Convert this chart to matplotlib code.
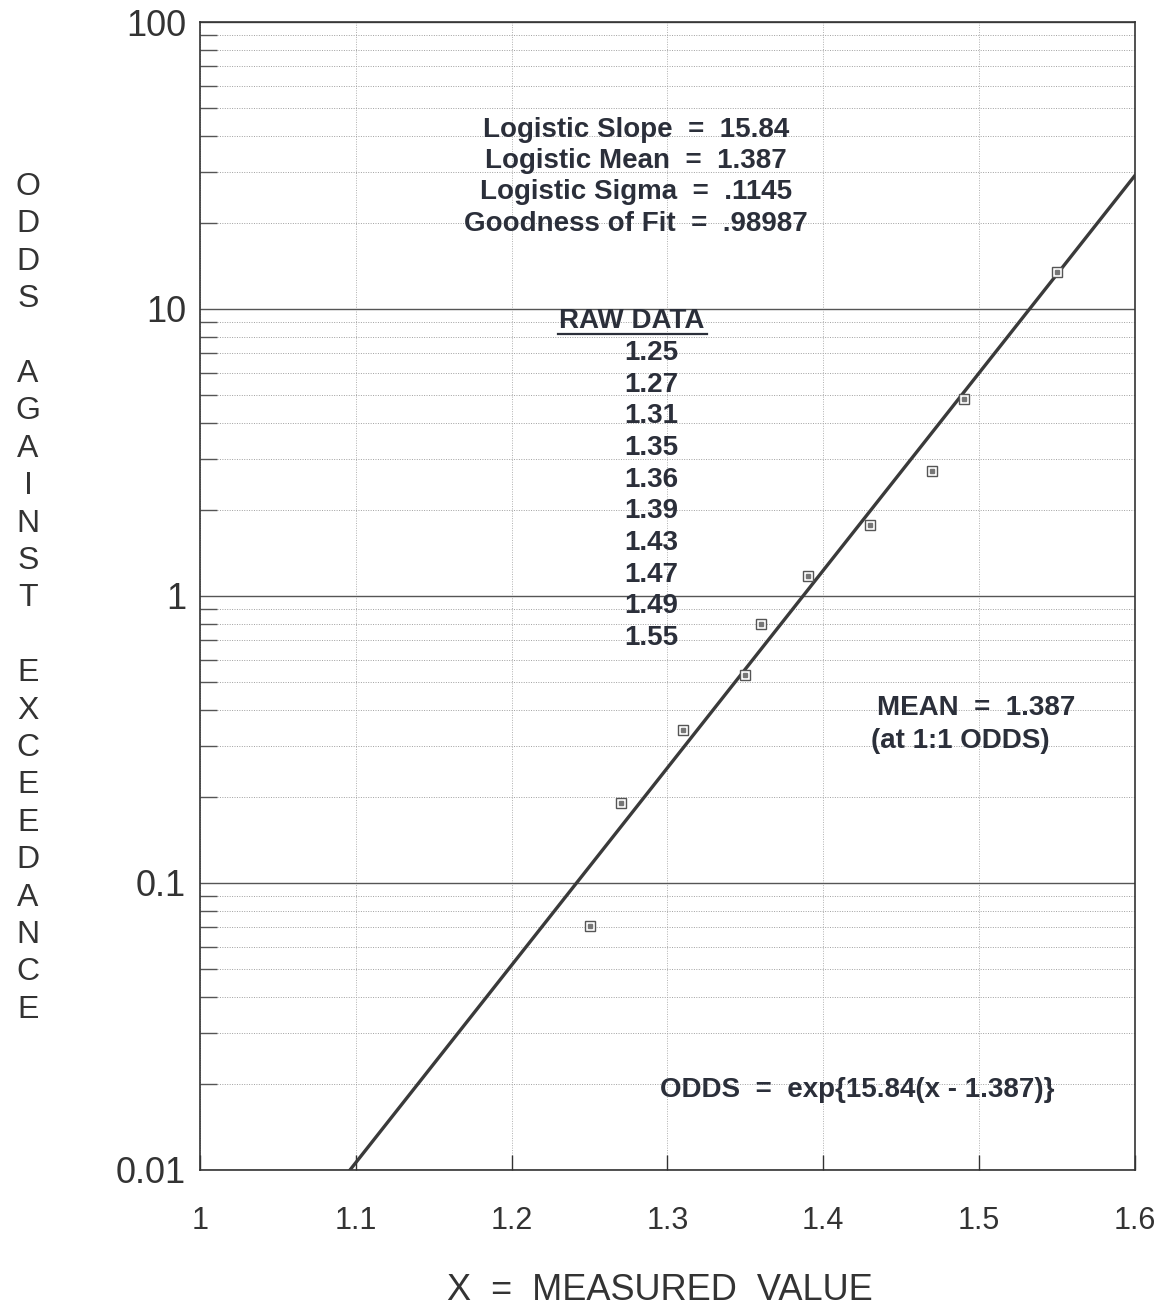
import numpy as np
import matplotlib.pyplot as plt
from matplotlib.ticker import FixedLocator, LogLocator, NullFormatter

plt.rcParams['font.family'] = ['Liberation Sans', 'DejaVu Sans']

# fitted logistic model
SLOPE = 15.84
MEAN = 1.387

# raw data points (x, odds against exceedance)
raw_x = [1.25, 1.27, 1.31, 1.35, 1.36, 1.39, 1.43, 1.47, 1.49, 1.55]
raw_odds = [0.071, 0.19, 0.34, 0.53, 0.80, 1.17, 1.77, 2.73, 4.85, 13.5]

x_ticks = [1.0, 1.1, 1.2, 1.3, 1.4, 1.5, 1.6]
x_labels = ["1", "1.1", "1.2", "1.3", "1.4", "1.5", "1.6"]
y_ticks = [0.01, 0.1, 1, 10, 100]
y_labels = ["0.01", "0.1", "1", "10", "100"]

stats_lines = ["Logistic Slope  =  15.84", "Logistic Mean  =  1.387",
               "Logistic Sigma  =  .1145", "Goodness of Fit  =  .98987"]

text_col = "#2b2f3a"

fig = plt.figure(figsize=(11.54, 13.10), dpi=100)
ax = fig.add_axes([0.1733, 0.1069, 0.8102, 0.8763])

ax.set_xlim(1.0, 1.6)
ax.set_yscale("log")
ax.set_ylim(0.01, 100)

# fitted line
xs = np.linspace(1.0, 1.6, 200)
ax.plot(xs, np.exp(SLOPE * (xs - MEAN)), color="#3a3a3a", lw=2.4, zorder=4)

# raw data markers: square with a dot inside
ax.plot(raw_x, raw_odds, ls="none", marker="s", ms=7, mfc="white",
        mec="#555555", mew=1.0, zorder=5)
ax.plot(raw_x, raw_odds, ls="none", marker="s", ms=2.2, mfc="#777777",
        mec="#777777", zorder=6)

# ticks and grid
ax.xaxis.set_major_locator(FixedLocator(x_ticks))
ax.set_xticklabels(x_labels)
ax.yaxis.set_major_locator(FixedLocator(y_ticks))
ax.yaxis.set_minor_locator(LogLocator(base=10, subs=np.arange(2, 10)))
ax.yaxis.set_minor_formatter(NullFormatter())
ax.set_yticklabels(y_labels)

ax.tick_params(axis="x", which="major", direction="in", length=11, width=1,
               color="#333333", labelsize=22, pad=26, labelcolor="#333333")
ax.tick_params(axis="y", which="major", length=0, labelsize=26, pad=10,
               labelcolor="#333333")
ax.tick_params(axis="y", which="minor", direction="in", length=12, width=1,
               color="#555555")

ax.grid(True, axis="x", which="major", ls=(0, (1, 1.5)), lw=0.7, color="#b0b0b0")
ax.grid(True, axis="y", which="major", ls="-", lw=1.0, color="#555555")
ax.grid(True, axis="y", which="minor", ls=(0, (1, 1.5)), lw=0.7, color="#a0a0a0")
ax.set_axisbelow(True)

for sp in ax.spines.values():
    sp.set_color("#333333")
    sp.set_linewidth(1.2)

# annotations
for i, line in enumerate(stats_lines):
    ax.text(0.466, 0.906 - i * 0.0272, line, transform=ax.transAxes, ha="center",
            va="center", fontsize=20, fontweight="bold", color=text_col)

ax.text(0.462, 0.7395, "RAW DATA", transform=ax.transAxes, ha="center",
        va="center", fontsize=20, fontweight="bold", color=text_col)
ax.plot([0.383, 0.542], [0.7285, 0.7285], transform=ax.transAxes,
        color=text_col, lw=1.6)
for i, v in enumerate(raw_x):
    ax.text(0.483, 0.7117 - i * 0.0276, f"{v:.2f}", transform=ax.transAxes,
            ha="center", va="center", fontsize=20, fontweight="bold",
            color=text_col)

ax.text(0.724, 0.4024, "MEAN  =  1.387", transform=ax.transAxes, ha="left",
        va="center", fontsize=20, fontweight="bold", color=text_col)
ax.text(0.718, 0.3737, "(at 1:1 ODDS)", transform=ax.transAxes, ha="left",
        va="center", fontsize=20, fontweight="bold", color=text_col)
ax.text(0.492, 0.0697, "ODDS  =  exp{15.84(x - 1.387)}", transform=ax.transAxes,
        ha="left", va="center", fontsize=20, fontweight="bold", color=text_col)

# axis titles
fig.text(0.572, 1 - 1290 / 1310, "X  =  MEASURED  VALUE", ha="center",
         va="center", fontsize=26, color="#333333")

ylab = "ODDS AGAINST EXCEEDANCE"
for i, ch in enumerate(ylab):
    if ch == " ":
        continue
    fig.text(28 / 1154, 1 - (187 + i * 37.4) / 1310, ch, ha="center",
             va="center", fontsize=23, color="#333333")

fig.savefig("out.png", dpi=100)
